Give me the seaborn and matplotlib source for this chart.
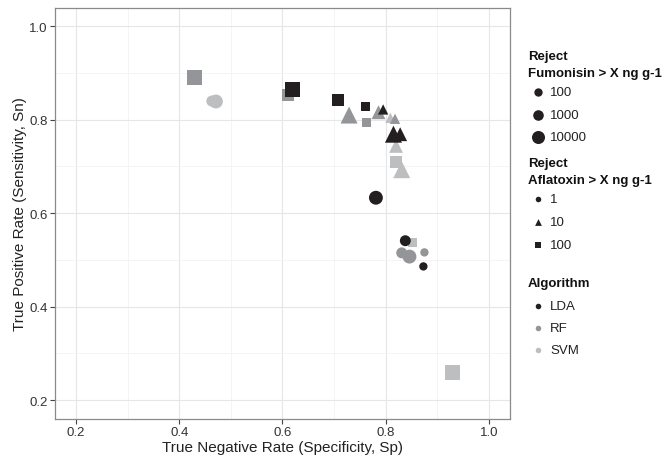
import numpy as np
import pandas as pd
import matplotlib
matplotlib.use("Agg")
import matplotlib.pyplot as plt
import seaborn as sns
from matplotlib.ticker import MultipleLocator

# ---------------- data ----------------
algorithm = ["LDA"] * 9 + ["RF"] * 9 + ["SVM"] * 9
fumonisin = [10000, 1000, 100, 100, 10000, 1000, 10000, 1000, 100,
             10000, 1000, 100, 10000, 1000, 100, 1000, 10000, 100,
             10000, 1000, 100, 100, 1000, 10000, 100, 1000, 10000]
aflatoxin = [100, 100, 100, 10, 10, 10, 1, 1, 1,
             100, 100, 100, 10, 10, 10, 1, 1, 1,
             100, 100, 100, 10, 10, 10, 1, 1, 1]
tnr = [0.620, 0.707, 0.761, 0.795, 0.815, 0.828, 0.781, 0.838, 0.873,
       0.429, 0.610, 0.763, 0.729, 0.786, 0.818, 0.831, 0.846, 0.875,
       0.929, 0.820, 0.851, 0.809, 0.820, 0.831, 0.463, 0.463, 0.471]
tpr = [0.864, 0.843, 0.829, 0.822, 0.769, 0.769, 0.633, 0.541, 0.486,
       0.891, 0.853, 0.795, 0.810, 0.816, 0.802, 0.515, 0.507, 0.516,
       0.259, 0.709, 0.537, 0.804, 0.744, 0.693, 0.840, 0.840, 0.839]

algo_levels = ["LDA", "RF", "SVM"]
fum_levels = [100, 1000, 10000]
afla_levels = [1, 10, 100]

df = pd.DataFrame({"Algorithm": algorithm, "Fumonisin": fumonisin,
                   "Aflatoxin": aflatoxin, "TNR": tnr, "TPR": tpr})

colors = {"LDA": "#231f20", "RF": "#939598", "SVM": "#bcbec0"}
markers = {1: "o", 10: "^", 100: "s"}
size_maps = {
    1: {100: 36, 1000: 62, 10000: 100},
    10: {100: 55, 1000: 100, 10000: 150},
    100: {100: 42, 1000: 74, 10000: 117},
}

sns.set_theme(style="white")
plt.rcParams["font.family"] = ["Liberation Sans", "DejaVu Sans"]

fig = plt.figure(figsize=(6.65, 4.6), dpi=100)
ax = fig.add_axes([0.0833, 0.0876, 0.683, 0.8937])

# draw order: SVM, RF, LDA ; within: squares, triangles, circles
for alg in ["SVM", "RF", "LDA"]:
    for af in [100, 10, 1]:
        sub = df[(df.Algorithm == alg) & (df.Aflatoxin == af)]
        sns.scatterplot(data=sub, x="TNR", y="TPR", size="Fumonisin",
                        sizes=size_maps[af], size_order=fum_levels,
                        marker=markers[af], color=colors[alg],
                        linewidth=0, edgecolor="none", legend=False, ax=ax,
                        zorder=3)

ax.set_xlim(0.16, 1.04)
ax.set_ylim(0.16, 1.04)
ax.xaxis.set_minor_locator(MultipleLocator(0.1))
ax.yaxis.set_minor_locator(MultipleLocator(0.1))
ax.set_xticks([0.2, 0.4, 0.6, 0.8, 1.0])
ax.set_yticks([0.2, 0.4, 0.6, 0.8, 1.0])
ax.set_xticklabels(["0.2", "0.4", "0.6", "0.8", "1.0"])
ax.set_yticklabels(["0.2", "0.4", "0.6", "0.8", "1.0"])
ax.grid(True, which="major", color="#e6e6e6", linewidth=0.8, zorder=0)
ax.grid(True, which="minor", color="#f3f3f3", linewidth=0.6, zorder=0)
ax.set_axisbelow(True)
for sp in ax.spines.values():
    sp.set_color("#8a8a8a")
    sp.set_linewidth(0.9)
ax.tick_params(which="major", direction="out", length=3.5, width=0.8,
               color="#444444", labelsize=9.5, labelcolor="#333333",
               bottom=True, left=True, pad=2)
ax.tick_params(which="minor", length=0)
ax.set_xlabel("True Negative Rate (Specificity, Sp)", fontsize=11,
              color="#222222", labelpad=1)
ax.set_ylabel("True Positive Rate (Sensitivity, Sn)", fontsize=11,
              color="#222222", labelpad=1.5)

# ---------------- legend (manual, pixel coords) ----------------
lax = fig.add_axes([0, 0, 1, 1], facecolor="none")
lax.set_xlim(0, 665)
lax.set_ylim(460, 0)
lax.axis("off")

tx = 528
kx = 538
lx = 550
title_kw = dict(fontsize=9.5, fontweight="bold", color="#111111",
                va="center", ha="left")
lab_kw = dict(fontsize=9.5, color="#222222", va="center", ha="left")

lax.text(tx, 57, "Reject", **title_kw)
lax.text(tx, 74, "Fumonisin > X ng g-1", **title_kw)
fum_key_sizes = [36, 58, 88]
for yy, lv, s in zip([93, 116, 138], fum_levels, fum_key_sizes):
    lax.scatter([kx], [yy], s=s, marker="o", color="#231f20", linewidth=0)
    lax.text(lx, yy, str(lv), **lab_kw)

lax.text(tx, 164, "Reject", **title_kw)
lax.text(tx, 181, "Aflatoxin > X ng g-1", **title_kw)
afla_key_sizes = {1: 16, 10: 24, 100: 20}
for yy, lv in zip([200, 223, 246], afla_levels):
    lax.scatter([kx], [yy], s=afla_key_sizes[lv], marker=markers[lv],
                color="#231f20", linewidth=0)
    lax.text(lx, yy, str(lv), **lab_kw)

lax.text(tx, 284, "Algorithm", **title_kw)
for yy, alg in zip([307, 329, 351], algo_levels):
    lax.scatter([kx], [yy], s=16, marker="o", color=colors[alg], linewidth=0)
    lax.text(lx, yy, alg, **lab_kw)

fig.savefig("out.png", dpi=100)
